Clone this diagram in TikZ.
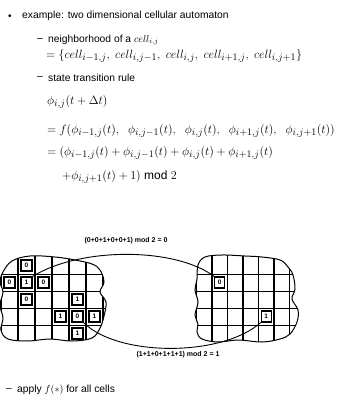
\documentclass[tikz,border=0pt]{standalone}
\usepackage{fontspec}
\setmainfont{Liberation Sans}
\DeclareMathSizes{12}{12}{10}{8}
\begin{document}
\begin{tikzpicture}[x=1pt,y=-1pt,
  txt/.style={anchor=west, inner sep=0pt, font=\fontsize{10.3}{12}\selectfont},
  eq/.style={anchor=west, inner sep=0pt, font=\fontsize{12}{14}\selectfont},
  dsh/.style={inner sep=0pt, font=\fontsize{10.3}{12}\selectfont},
  lbl/.style={inner sep=0pt, font=\fontsize{7}{8}\bfseries\selectfont},
  blobline/.style={line width=1pt},
  vline/.style={line width=1.3pt},
  hline/.style={line width=0.8pt},
  conn/.style={line width=0.9pt},
  cellmark/.style={draw, fill=white, line width=1.1pt, minimum width=11pt, minimum height=11pt, inner sep=0pt, font=\fontsize{6.5}{6.5}\bfseries\selectfont}]
\useasboundingbox (0,0) rectangle (355,400);

% text
\node[inner sep=0pt] (b1) at (10,17) {\textbullet};
\node[txt] (t1) at (22,16) {example: two dimensional cellular automaton};
\node[dsh] (d1) at (40,40) {--};
\node[txt] (t2) at (48,40) {neighborhood of a $cell_{i,j}$};
\node[eq] (e1) at (46,56) {$=\{cell_{i-1,j},\ cell_{i,j-1},\ cell_{i,j},\ cell_{i+1,j},\ cell_{i,j+1}\}$};
\node[dsh] (d2) at (40,78) {--};
\node[txt] (t3) at (48,78) {state transition rule};
\node[eq] (e2) at (47,102) {$\phi_{i,j}(t+\Delta t)$};
\node[eq] (e3) at (47,131) {$=f(\phi_{i-1,j}(t),\hspace{7pt}\phi_{i,j-1}(t),\hspace{7pt}\phi_{i,j}(t),\hspace{7pt}\phi_{i+1,j}(t),\hspace{7pt}\phi_{i,j+1}(t))$};
\node[eq] (e4) at (47,153) {$=(\phi_{i-1,j}(t)+\phi_{i,j-1}(t)+\phi_{i,j}(t)+\phi_{i+1,j}(t)$};
\node[eq] (e5) at (62,177) {$+\phi_{i,j+1}(t)+1)\bmod 2$};
\node[dsh] (d3) at (9,390) {--};
\node[txt] (t4) at (17,390) {apply $f(\ast)$ for all cells};

% labels
\node[lbl] (l1) at (126,241) {(0+0+1+0+0+1) mod 2 = 0};
\node[lbl] (l2) at (178,355) {(1+1+0+1+1+1) mod 2 = 1};

% left blob
\def\leftblob{plot[smooth cycle, tension=0.6] coordinates {(3,272) (12,261) (30,256) (55,257) (75,260) (92,264) (100,270) (104,282) (100,292) (106,302) (104,316) (100,328) (92,338) (72,341) (50,339) (28,341) (8,339) (1,330) (3,318) (0,305) (3,292) (0,282)}}
\begin{scope}
  \clip \leftblob;
  \foreach \x in {1,18,35,52,69,86,103} \draw[vline] (\x,250) -- (\x,346);
  \foreach \y in {274,291,308,325} \draw[hline] (-5,\y) -- (112,\y);
\end{scope}
\draw[blobline] \leftblob;

% right blob
\def\rightblob{plot[smooth cycle, tension=0.6] coordinates {(198,265) (205,257) (222,255) (245,256) (262,257) (280,260) (288,267) (293,275) (295,289) (292,299) (298,310) (297,322) (290,334) (280,339) (262,342) (238,340) (218,342) (202,339) (197,332) (198,324) (195,315) (198,302) (195,290) (197,279)}}
\begin{scope}
  \clip \rightblob;
  \foreach \x in {196.5,212,227.5,243,258.5,274,289.5} \draw[vline] (\x,250) -- (\x,346);
  \foreach \y in {274,291,308,325} \draw[hline] (190,\y) -- (302,\y);
\end{scope}
\draw[blobline] \rightblob;

% marked cells, left
\node[cellmark] (lu) at (26.5,265.5) {0};
\node[cellmark] (ll) at (9.5,282.5) {0};
\node[cellmark] (lc) at (26.5,282.5) {1};
\node[cellmark] (lr) at (43.5,282.5) {0};
\node[cellmark] (ld) at (26.5,299.5) {0};
\node[cellmark] (mu) at (77.5,299.5) {1};
\node[cellmark] (ml) at (60.5,316.5) {1};
\node[cellmark] (mc) at (77.5,316.5) {0};
\node[cellmark] (mr) at (94.5,316.5) {1};
\node[cellmark] (md) at (77.5,333.5) {1};
% marked cells, right
\node[cellmark, minimum width=10pt] (rc) at (219.75,282.5) {0};
\node[cellmark, minimum width=10pt] (rd) at (266.25,316.5) {1};

% connectors
\draw[conn] (lc.north east) .. controls (80,247) and (175,247) .. (rc.north west);
\draw[conn] (mc.south east) .. controls (118,357) and (222,357) .. (rd.south west);
\end{tikzpicture}
\end{document}
